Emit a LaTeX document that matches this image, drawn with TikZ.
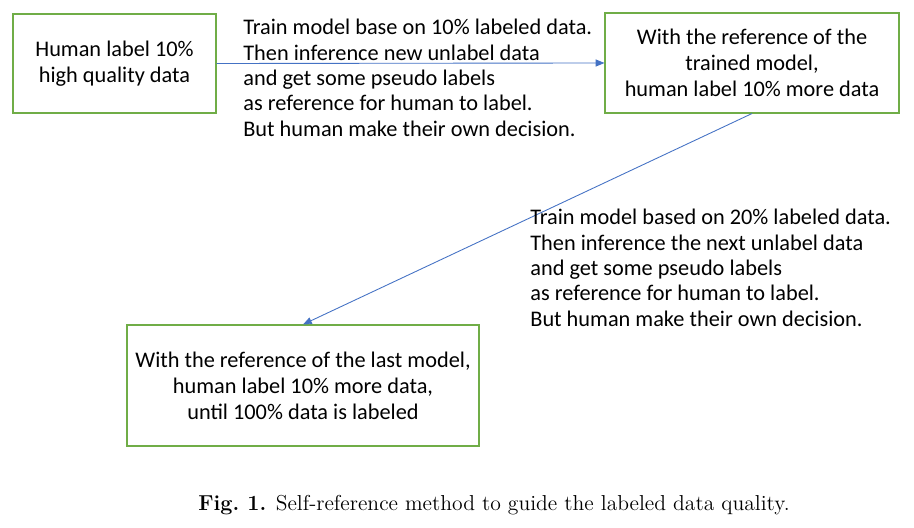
\documentclass[tikz,border=0pt]{standalone}
\usepackage{fontspec}
\newfontfamily\boxfont{Carlito}
\usepackage{tikz}
\usetikzlibrary{positioning,arrows.meta}

\definecolor{boxgreen}{RGB}{112,173,71}
\definecolor{arrowblue}{RGB}{68,114,196}

\begin{document}
\begin{tikzpicture}[x=0.2mm,y=-0.2mm,
		stepbox/.style={draw=boxgreen, line width=0.6pt, align=center, inner sep=0pt,
			font=\boxfont\fontsize{12.7}{14.8}\selectfont},
		note/.style={align=left, anchor=north west, inner sep=0pt,
			font=\boxfont\fontsize{12.7}{14.4}\selectfont},
		flow/.style={-{Triangle[length=5pt,width=4pt]}, arrowblue, line width=0.5pt}]
				\useasboundingbox (0,0) rectangle (914,528);
				
				% the three labelling rounds
				\node[stepbox, minimum width=203*0.2mm, minimum height=99*0.2mm] (first) at (114.5,63.5)
					{Human label 10\%\\high quality data};
				\node[stepbox, minimum width=294*0.2mm, minimum height=100*0.2mm] (second) at (752,63)
					{With the reference of the\\trained model,\\human label 10\% more data};
				\node[stepbox, minimum width=352*0.2mm, minimum height=121*0.2mm] (last) at (303,385.5)
					{With the reference of the last model,\\human label 10\% more data,\\until 100\% data is labeled};
				
				\draw[flow] (first.east) -- (second.west);
				\draw[flow] (second.south) -- (last.north);
				
				\node[note] (noteone) at (243,19)
					{Train model base on 10\% labeled data.\\Then inference new unlabel data\\and get some pseudo labels\\as reference for human to label.\\But human make their own decision.};
				\node[note] (notetwo) at (530,209)
					{Train model based on 20\% labeled data.\\Then inference the next unlabel data\\and get some pseudo labels\\as reference for human to label.\\But human make their own decision.};
				
				\node[font=\fontsize{12.3}{14}\selectfont] (caption) at (494,505)
					{\textbf{Fig.\ 1.} Self-reference method to guide the labeled data quality.};
			\end{tikzpicture}
\end{document}
